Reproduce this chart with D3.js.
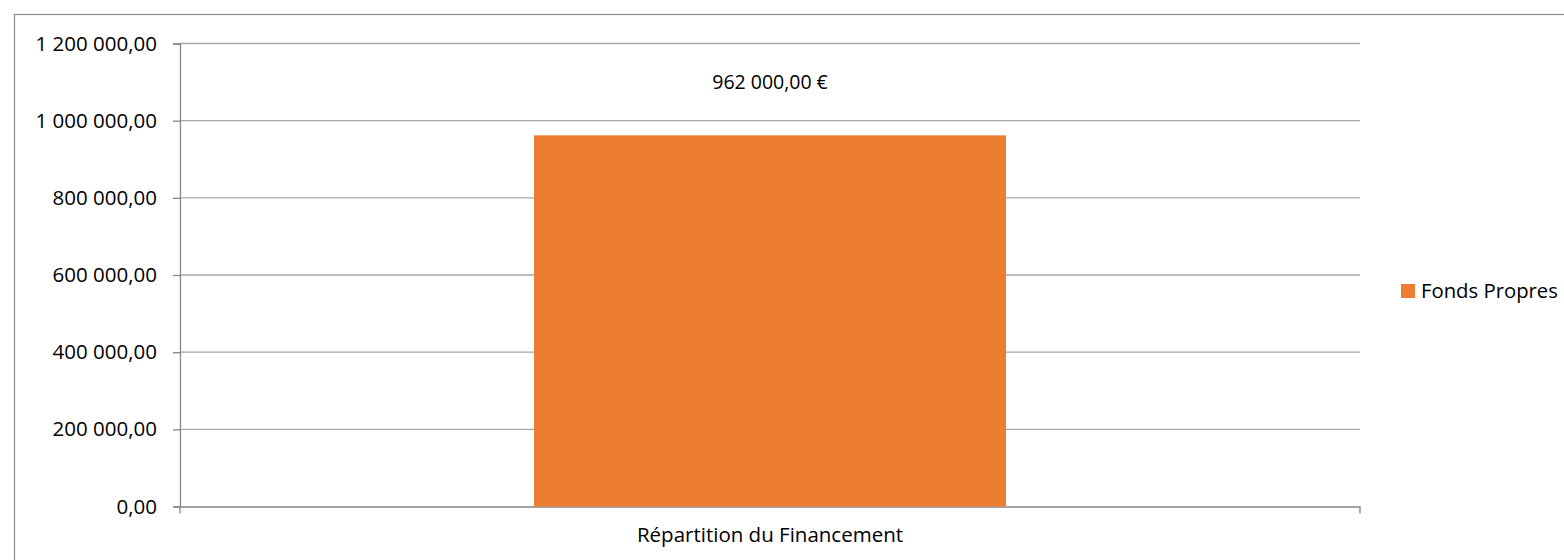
<!DOCTYPE html>
<html>
<head>
<meta charset="utf-8">
<script src="https://cdn.jsdelivr.net/npm/d3@7"></script>
<style>
  body { margin: 0; background: #fff; }
  text { font-family: "Open Sans", "Noto Sans", sans-serif; fill: #000; }
</style>
</head>
<body>
<svg id="chart" width="1564" height="560"></svg>
<script>
// chart data
const categories = ["Répartition du Financement"];
const seriesName = "Fonds Propres";
const seriesValues = [962000];
const yTicks = [0, 200000, 400000, 600000, 800000, 1000000, 1200000];

const svg = d3.select("#chart");
const margin = { left: 180, right: 204, top: 43.5, bottom: 53.5 };
const W = 1564, H = 560;
const plotW = W - margin.left - margin.right;
const plotH = H - margin.top - margin.bottom;

// outer chart border
svg.append("rect")
  .attr("x", 14.5).attr("y", 14.5)
  .attr("width", W).attr("height", H)
  .attr("fill", "none").attr("stroke", "#8c8c8c").attr("stroke-width", 1.2);

const g = svg.append("g").attr("transform", `translate(${margin.left},${margin.top})`);

// one category, gap width 150% -> bar is 40% of the plot width
const x = d3.scaleBand().domain(categories).range([0, plotW]).paddingInner(0).paddingOuter(0.75);
const y = d3.scaleLinear().domain([0, 1200000]).range([plotH, 0]);

// french number format: space thousands, comma decimal
const fr = d3.formatLocale({ decimal: ",", thousands: " ", grouping: [3], currency: ["", " €"] });
const fmt = fr.format(",.2f");
const fmtEur = fr.format("$,.2f");

// gridlines
g.append("g")
  .selectAll("line")
  .data(yTicks.filter(d => d > 0))
  .join("line")
  .attr("x1", 0).attr("x2", plotW)
  .attr("y1", d => y(d)).attr("y2", d => y(d))
  .attr("stroke", "#a6a6a6").attr("stroke-width", 1.3);

// y axis
const yAxis = g.append("g")
  .call(d3.axisLeft(y).tickValues(yTicks).tickFormat(d => fmt(d)).tickSize(7).tickPadding(16));
yAxis.select(".domain").attr("stroke", "#868686").attr("stroke-width", 1.3);
yAxis.selectAll(".tick line").attr("stroke", "#868686").attr("stroke-width", 1.3);
yAxis.selectAll("text").attr("font-size", 20.5).attr("fill", "#000").attr("font-family", "Open Sans");

// x axis
const xAxis = g.append("g").attr("transform", `translate(0,${plotH})`)
  .call(d3.axisBottom(x).tickSize(0).tickPadding(21));
xAxis.select(".domain").attr("stroke", "#868686").attr("stroke-width", 1.3);
xAxis.selectAll("text").attr("font-size", 20.5).attr("fill", "#000").attr("font-family", "Open Sans");
// category boundary ticks
g.append("g").selectAll("line")
  .data([0, plotW])
  .join("line")
  .attr("x1", d => d).attr("x2", d => d)
  .attr("y1", plotH).attr("y2", plotH + 7)
  .attr("stroke", "#868686").attr("stroke-width", 1.3);

// bars
g.selectAll("rect.bar")
  .data(seriesValues)
  .join("rect")
  .attr("class", "bar")
  .attr("x", (d, i) => x(categories[i]))
  .attr("width", x.bandwidth())
  .attr("y", d => y(d))
  .attr("height", d => plotH - y(d))
  .attr("fill", "#ed7d31");

// data labels
g.selectAll("text.lbl")
  .data(seriesValues)
  .join("text")
  .attr("class", "lbl")
  .attr("x", (d, i) => x(categories[i]) + x.bandwidth() / 2)
  .attr("y", d => y(d) - 46)
  .attr("text-anchor", "middle")
  .attr("font-size", 19.5)
  .text(d => fmtEur(d));

// legend
const leg = svg.append("g").attr("transform", "translate(1401,284)");
leg.append("rect").attr("width", 14).attr("height", 14).attr("fill", "#ed7d31");
leg.append("text").attr("x", 20).attr("y", 14).attr("font-size", 20.3).text(seriesName);
</script>
</body>
</html>
